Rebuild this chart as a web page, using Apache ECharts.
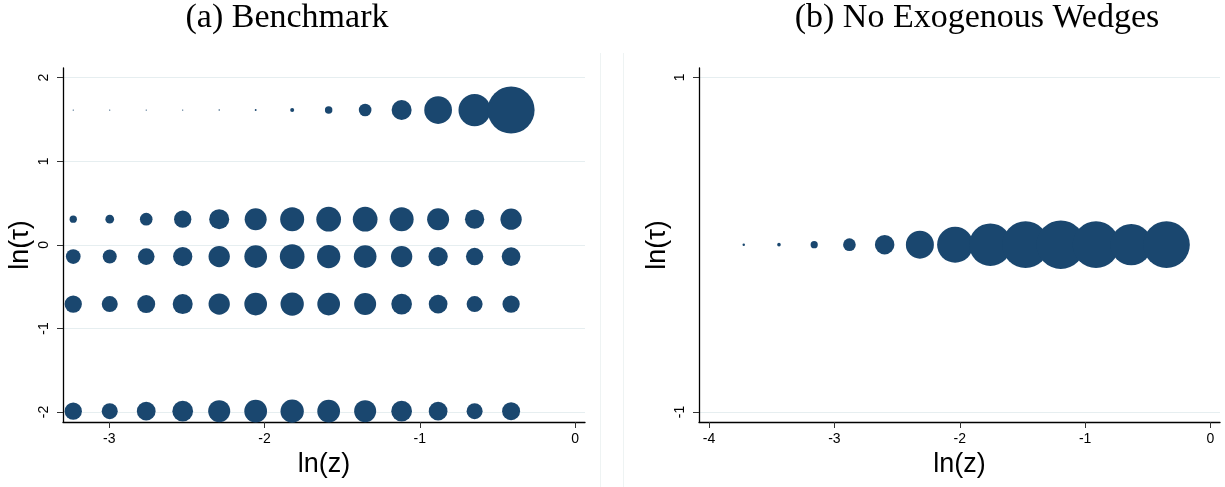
<!DOCTYPE html>
<html>
<head>
<meta charset="utf-8">
<script src="https://cdn.jsdelivr.net/npm/echarts@6/dist/echarts.min.js"></script>
<style>html,body{margin:0;padding:0;background:#fff}#c{width:1225px;height:487px}</style>
</head>
<body>
<div id="c"></div>
<script>
// ---------- data ----------
const titleA = '(a) Benchmark';
const titleB = '(b) No Exogenous Wedges';

// Panel (a): ln(z) grid points and ln(tau) levels
const leftX = [-3.232, -2.997, -2.762, -2.527, -2.292, -2.057, -1.822, -1.587, -1.352, -1.117, -0.882, -0.647, -0.412];
const leftRowY = [1.613, 0.307, -0.14, -0.709, -1.99];
// bubble weights (mass) for each ln(tau) row, in order of leftRowY
const leftW1 = [0.015, 0.015, 0.015, 0.015, 0.02, 0.035, 0.16, 0.56, 1.6, 4.0, 7.7, 10.4, 22.1];
const leftW2 = [0.53, 0.76, 1.6, 3.0, 4.0, 4.84, 5.76, 6.1, 6.1, 5.76, 4.84, 3.72, 4.54];
const leftW3 = [2.16, 1.96, 2.79, 3.72, 4.54, 5.15, 6.1, 5.43, 5.15, 4.54, 3.72, 3.0, 3.5];
const leftW4 = [3.0, 2.56, 3.24, 4.0, 4.54, 5.15, 5.43, 5.15, 4.84, 4.28, 3.5, 2.56, 3.0];
const leftW5 = [3.0, 2.56, 3.5, 4.28, 4.84, 5.15, 5.43, 5.15, 4.84, 4.28, 3.5, 2.56, 3.24];

// Panel (b)
const rightX = [-3.723, -3.442, -3.161, -2.880, -2.599, -2.318, -2.037, -1.756, -1.475, -1.194, -0.913, -0.632, -0.351];
const rightY = [0, 0, 0, 0, 0, 0, 0, 0, 0, 0, 0, 0, 0];
const rightW = [0.06, 0.13, 0.52, 1.6, 3.8, 7.84, 12.96, 18.06, 21.8, 23.5, 21.8, 17.06, 21.8];

// tick labels
const leftXTicks = [-3, -2, -1, 0];
const leftYTicks = [-2, -1, 0, 1, 2];
const rightXTicks = [-4, -3, -2, -1, 0];
const rightYTicks = [-1, 1];

// ---------- build ----------
const leftWeights = [leftW1, leftW2, leftW3, leftW4, leftW5];
const leftData = [];
leftRowY.forEach((y, r) => leftX.forEach((x, i) => leftData.push([x, y, leftWeights[r][i]])));
const rightData = rightX.map((x, i) => [x, rightY[i], rightW[i]]);

const NAVY = '#1a476f';
const FONT = 'Liberation Sans, Arial, sans-serif';
const sizeFn = v => 10 * Math.sqrt(v[2]);

function xAxis(gi, min, max, ticks) {
  return {
    type: 'value', gridIndex: gi, min: min, max: max,
    name: 'ln(z)', nameLocation: 'middle', nameGap: 26,
    nameTextStyle: { fontFamily: FONT, fontSize: 27, color: '#000' },
    axisLine: { show: true, onZero: false, lineStyle: { color: '#000', width: 1.3 } },
    axisTick: { show: true, inside: false, length: 6, customValues: ticks, lineStyle: { color: '#333', width: 1 } },
    axisLabel: { show: true, customValues: ticks, margin: 10, fontFamily: FONT, fontSize: 14, color: '#000' },
    splitLine: { show: false }
  };
}
function yAxis(gi, min, max, ticks, gap) {
  return {
    type: 'value', gridIndex: gi, min: min, max: max,
    name: 'ln(\u03C4)', nameLocation: 'middle', nameGap: gap,
    nameTextStyle: { fontFamily: FONT, fontSize: 27, color: '#000' },
    axisLine: { show: true, onZero: false, lineStyle: { color: '#000', width: 1.3 } },
    axisTick: { show: true, inside: false, length: 6, customValues: ticks, lineStyle: { color: '#333', width: 1 } },
    axisLabel: { show: true, customValues: ticks, rotate: 90, margin: 12, fontFamily: FONT, fontSize: 14, color: '#000' },
    splitLine: { show: true, lineStyle: { color: '#e6eef0', width: 1.2 } }
  };
}

const chart = echarts.init(document.getElementById('c'), null, { renderer: 'canvas' });
chart.setOption({
  animation: false,
  backgroundColor: '#fff',
  grid: [
    { left: 63, top: 68, width: 522, height: 354 },
    { left: 699, top: 68, width: 521, height: 354 }
  ],
  xAxis: [
    xAxis(0, -3.298, 0.064, leftXTicks),
    xAxis(1, -4.08, 0.076, rightXTicks)
  ],
  yAxis: [
    yAxis(0, -2.12, 2.116, leftYTicks, 29),
    yAxis(1, -1.06, 1.056, rightYTicks, 28)
  ],
  graphic: [
    { type: 'text', x: 287, y: 18, style: { text: titleA, fontFamily: 'Liberation Serif, serif', fontSize: 34, fill: '#000', textAlign: 'center', textVerticalAlign: 'middle' } },
    { type: 'text', x: 977, y: 18, style: { text: titleB, fontFamily: 'Liberation Serif, serif', fontSize: 34, fill: '#000', textAlign: 'center', textVerticalAlign: 'middle' } },
    { type: 'line', shape: { x1: 600.5, y1: 53, x2: 600.5, y2: 487 }, style: { stroke: '#eef3f3', lineWidth: 1 } },
    { type: 'line', shape: { x1: 623.5, y1: 53, x2: 623.5, y2: 487 }, style: { stroke: '#eef3f3', lineWidth: 1 } }
  ],
  series: [
    { type: 'scatter', xAxisIndex: 0, yAxisIndex: 0, data: leftData, symbol: 'circle', symbolSize: sizeFn,
      itemStyle: { color: NAVY, opacity: 1 }, silent: true },
    { type: 'scatter', xAxisIndex: 1, yAxisIndex: 1, data: rightData, symbol: 'circle', symbolSize: sizeFn,
      itemStyle: { color: NAVY, opacity: 1 }, silent: true }
  ]
});
</script>
</body>
</html>
